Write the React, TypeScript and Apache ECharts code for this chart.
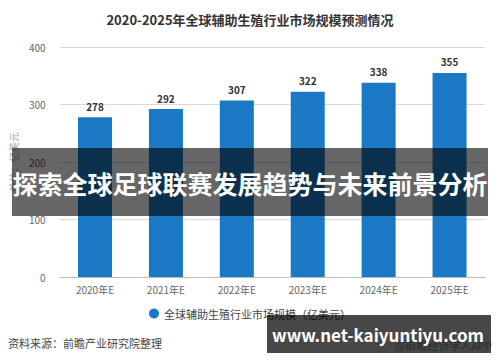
import React, { useEffect, useRef } from "react";
import * as echarts from "echarts";

const categories = ["2020年E", "2021年E", "2022年E", "2023年E", "2024年E", "2025年E"];
const marketSize = [278, 292, 307, 322, 338, 355];
const seriesName = "全球辅助生殖行业市场规模（亿美元）";
const titleText = "2020-2025年全球辅助生殖行业市场规模预测情况";
const bannerText = "探索全球足球联赛发展趋势与未来前景分析";
const sourceText = "资料来源：前瞻产业研究院整理";
const siteText = "www.net-kaiyuntiyu.com";
const brandText = "@前瞻经济学人APP";

export default function App() {
  const ref = useRef<HTMLDivElement>(null);
  useEffect(() => {
    if (!ref.current) return;
    const chart = echarts.init(ref.current, undefined, { renderer: "svg" });
    const font = "'Microsoft YaHei','Noto Sans CJK SC',sans-serif";
    chart.setOption({
      animation: false,
      backgroundColor: "#ffffff",
      textStyle: { fontFamily: font },
      title: {
        text: titleText,
        left: "center",
        top: 8,
        textStyle: { fontSize: 13, fontWeight: "bold", color: "#333", fontFamily: font },
      },
      grid: { left: 58, right: 15, top: 47, bottom: 85 },
      legend: {
        bottom: 38,
        left: "center",
        icon: "circle",
        itemWidth: 10,
        itemHeight: 10,
        itemGap: 6,
        textStyle: { fontSize: 11, color: "#444", fontFamily: font },
      },
      xAxis: {
        type: "category",
        data: categories,
        axisLine: { lineStyle: { color: "#bbb" } },
        axisTick: { alignWithLabel: true, lineStyle: { color: "#bbb" }, length: 4 },
        axisLabel: { color: "#666", fontSize: 10, margin: 7 },
      },
      yAxis: {
        type: "value",
        min: 0,
        max: 400,
        interval: 100,
        name: "单位：亿美元",
        nameLocation: "middle",
        nameGap: 33,
        nameTextStyle: { color: "#aaa", fontSize: 10 },
        axisLine: { show: false },
        axisTick: { show: false },
        axisLabel: { color: "#666", fontSize: 10, margin: 14 },
        splitLine: { lineStyle: { color: "#d9d9d9" } },
      },
      series: [
        {
          name: seriesName,
          type: "bar",
          data: marketSize,
          barWidth: 34,
          itemStyle: { color: "#1a78c4" },
          label: {
            show: true,
            position: "top",
            distance: 6,
            color: "#333",
            fontSize: 10,
            fontWeight: "bold",
          },
        },
      ],
      graphic: [
        {
          type: "text",
          left: 8,
          top: 337,
          style: { text: sourceText, fill: "#444", font: `11px ${font}` },
        },
        {
          type: "text",
          right: 8,
          top: 339,
          style: { text: brandText, fill: "#999", font: `11px ${font}` },
        },
        {
          type: "rect",
          shape: { x: 12, y: 148, width: 476, height: 68 },
          style: { fill: "rgba(0,0,0,0.6)" },
          z: 100,
        },
        {
          type: "text",
          x: 250,
          y: 183,
          style: {
            text: bannerText,
            fill: "#fff",
            font: `bold 25px ${font}`,
            align: "center",
            verticalAlign: "middle",
          },
          z: 101,
        },
        {
          type: "rect",
          shape: { x: 267, y: 315, width: 224, height: 38 },
          style: { fill: "rgba(0,0,0,0.72)" },
          z: 100,
        },
        {
          type: "text",
          x: 378,
          y: 334,
          style: {
            text: siteText,
            fill: "#fff",
            font: `bold 17px ${font}`,
            align: "center",
            verticalAlign: "middle",
          },
          z: 101,
        },
      ],
    });
    return () => chart.dispose();
  }, []);
  return <div ref={ref} style={{ width: 500, height: 362, position: "absolute", left: 0, top: 0 }} />;
}
